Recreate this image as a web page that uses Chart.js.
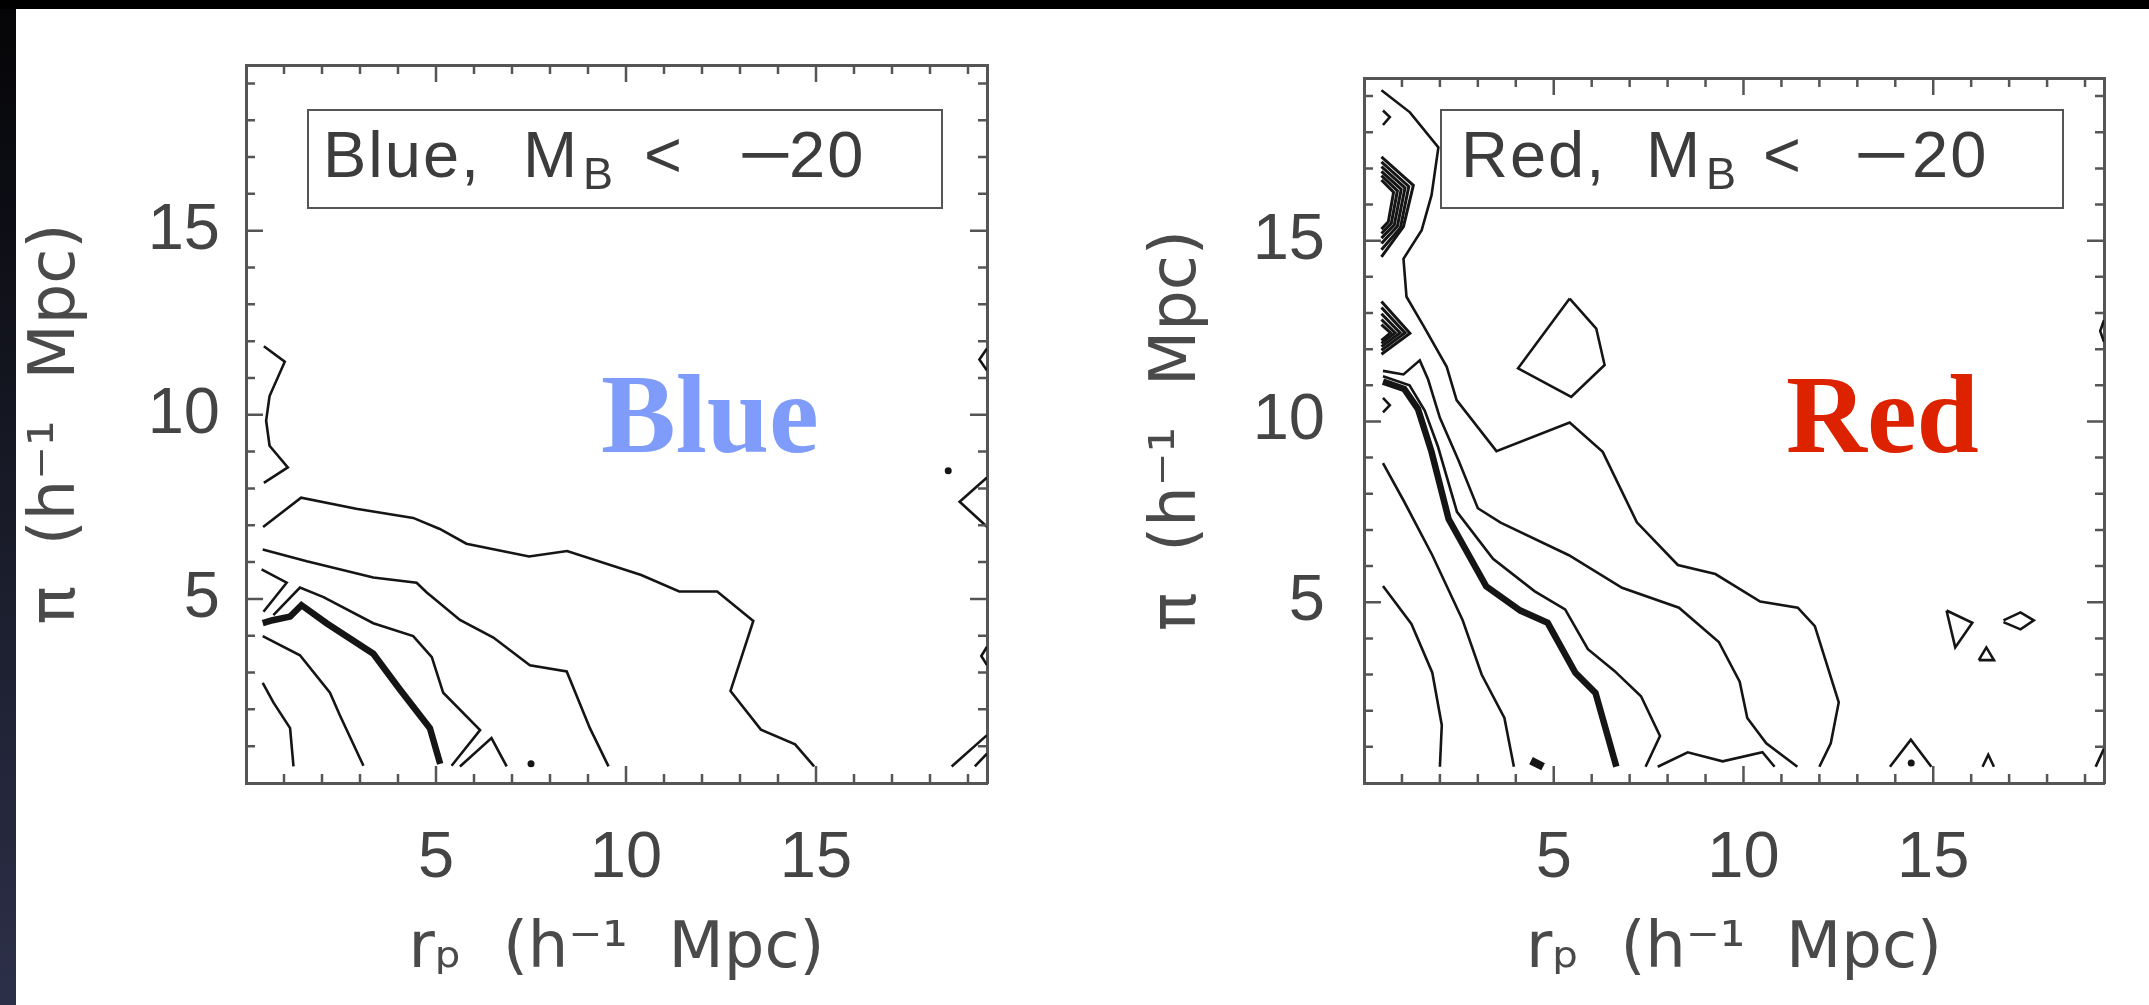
<!DOCTYPE html>
<html><head><meta charset="utf-8">
<script src="https://cdn.jsdelivr.net/npm/chart.js@4.4.0/dist/chart.umd.min.js"></script>
<style>
html,body{margin:0;padding:0;background:#000;width:2149px;height:1005px;overflow:hidden;}
#paper{position:absolute;left:16px;top:9px;width:2133px;height:996px;background:#fff;}
#strip{position:absolute;left:0;top:9px;width:16px;height:996px;background:linear-gradient(#050507,#2c3049);}
canvas{position:absolute;top:0;}
.lbox{position:absolute;border:2.5px solid #555;box-sizing:border-box;}
.t{position:absolute;font-family:'Liberation Sans',sans-serif;color:#3c3c3c;line-height:1;white-space:pre;font-size:65px;letter-spacing:2px;}
.s{font-size:45px;}
.m{transform:scaleX(1.45);transform-origin:0 0;}
.big{position:absolute;font-family:'Liberation Serif',serif;font-weight:bold;font-size:112px;line-height:1;white-space:pre;}
</style></head>
<body>
<div id="paper"></div><div id="strip"></div>
<canvas id="c1" width="1075" height="1005" style="left:0"></canvas>
<canvas id="c2" width="1074" height="1005" style="left:1075px"></canvas>

<div class="lbox" style="left:307px;top:109px;width:636px;height:100px"></div>
<div class="t" style="left:323px;top:122px">Blue,</div>
<div class="t" style="left:523px;top:122px">M</div>
<div class="t s" style="left:583px;top:151px">B</div>
<div class="t" style="left:644px;top:122px">&lt;</div>
<div class="t m" style="left:738px;top:122px">&#8722;</div>
<div class="t" style="left:789px;top:122px">20</div>

<div class="lbox" style="left:1440px;top:109px;width:624px;height:100px"></div>
<div class="t" style="left:1461px;top:122px">Red,</div>
<div class="t" style="left:1646px;top:122px">M</div>
<div class="t s" style="left:1706px;top:151px">B</div>
<div class="t" style="left:1763px;top:122px">&lt;</div>
<div class="t m" style="left:1854px;top:122px">&#8722;</div>
<div class="t" style="left:1912px;top:122px">20</div>

<div class="big" style="left:601px;top:358px;color:#7f9cfb">Blue</div>
<div class="big" style="left:1786px;top:358px;color:#dd2200">Red</div>

<script>
// ---- axis ticks ----
const tickValues = [0,1,2,3,4,5,6,7,8,9,10,11,12,13,14,15,16,17,18,19];
const tickLabels = [5,10,15];
const axisMin = 0, axisMax = 19.5;
const xTitle = 'r\u209A  (h\u207B\u00B9  Mpc)';
const yTitle = '\u03C0  (h\u207B\u00B9  Mpc)';

// ---- Blue panel contours (rp, pi) ----
const blueArc1  = [[0.44,2.72],[0.72,2.19],[1.16,1.49],[1.25,0.45]];
const blueArc2  = [[0.44,3.99],[1.42,3.47],[2.21,2.45],[2.47,1.84],[3.09,0.47]];
const blueThick = [[0.44,4.34],[0.7,4.42],[1.16,4.52],[1.46,4.83],[2.12,4.34],[3.35,3.51],[4.05,2.54],[4.84,1.49],[5.11,0.52]];
const blueC4    = [[0.72,4.56],[1.42,5.31],[2.04,5.05],[3.35,4.34],[4.40,3.99],[4.89,3.42],[5.19,2.45],[6.16,1.44],[5.41,0.47]];
const blueV     = [[0.41,5.80],[1.07,5.44],[0.46,4.65]];
const blueBotV  = [[5.63,0.45],[6.46,1.22],[6.86,0.45]];
const blueC5    = [[0.44,6.34],[1.6,6.02],[3.35,5.58],[4.49,5.44],[4.75,5.18],[5.63,4.43],[6.51,3.95],[7.47,3.20],[8.44,3.03],[9.05,1.49],[9.54,0.45]];
const blueC6    = [[0.45,6.95],[1.45,7.75],[2.9,7.45],[4.4,7.2],[5.1,6.9],[5.8,6.5],[7.45,6.15],[8.45,6.3],[10.4,5.65],[11.4,5.2],[12.4,5.2],[13.35,4.4],[12.75,2.5],[13.55,1.45],[14.45,1.05],[14.95,0.45]];
const blueC7    = [[0.47,11.86],[1.02,11.44],[0.62,10.51],[0.53,9.84],[0.62,9.16],[1.1,8.57],[0.47,8.15]];
const blueEdgeV = [[19.5,8.3],[18.78,7.64],[19.5,6.96]];
const blueEdge1 = [[19.5,11.8],[19.3,11.5],[19.5,11.2]];
const blueEdge2 = [[19.5,3.7],[19.35,3.45],[19.5,3.2]];
const blueBR1   = [[18.57,0.45],[19.5,1.3]];
const blueBR2   = [[19.18,0.45],[19.5,0.8]];
const blueDots  = [[18.48,8.48],[7.5,0.52]];

// ---- Red panel contours (rp, pi) ----
const redR1 = [[0.46,19.16],[1.21,18.55],[1.96,17.58],[1.78,16.26],[1.52,15.29],[1.04,14.5],[1.12,13.45],[1.56,12.66],[2.18,11.51],[2.44,10.59],[3.49,9.18],[5.42,9.97],[6.29,9.16],[7.19,7.21],[8.27,6.03],[9.26,5.78],[10.44,5.02],[11.43,4.85],[11.88,4.34],[12.51,2.23],[12.3,1.1],[12.0,0.45]];
const redR2 = [[0.5,11.4],[1.04,11.3],[1.47,11.69],[1.69,11.16],[2.0,10.1],[2.5,8.9],[3.0,7.6],[3.6,7.2],[5.4,6.3],[6.8,5.4],[8.3,4.85],[9.35,3.9],[9.9,2.8],[10.1,1.8],[10.6,1.1],[11.42,0.45]];
const redR3 = [[0.5,11.25],[1.2,11.0],[1.6,10.3],[1.95,9.3],[2.45,7.5],[3.4,6.2],[4.5,5.3],[5.3,4.8],[5.9,3.7],[6.6,3.1],[7.3,2.4],[7.8,1.3],[7.42,0.45]];
const redThick = [[0.5,11.1],[1.06,10.9],[1.42,10.35],[1.78,9.16],[2.23,7.3],[3.22,5.44],[4.12,4.77],[4.84,4.43],[5.57,3.05],[6.1,2.49],[6.65,0.45]];
const redL2 = [[0.5,8.85],[1.05,7.8],[1.8,6.3],[2.6,4.5],[3.1,3.0],[3.7,1.8],[3.95,0.45]];
const redL1 = [[0.5,5.45],[1.25,4.4],[1.8,3.05],[2.05,1.6],[2.0,0.45]];
const redBlob = [[4.4,0.62],[4.72,0.45]];
const redWavy = [[7.74,0.45],[8.53,0.85],[9.45,0.6],[10.5,0.85],[10.82,0.45]];
const redTri = [[13.86,0.45],[14.41,1.2],[14.95,0.45]];
const redSmallTri = [[16.3,0.45],[16.45,0.78],[16.6,0.45]];
const redBR = [[19.28,0.45],[19.5,0.95]];
const redPoly = [[5.42,13.4],[6.12,12.57],[6.34,11.56],[5.46,10.68],[4.06,11.47],[5.42,13.4]];
const redSmall1 = [[15.35,4.77],[16.03,4.43],[15.58,3.75],[15.35,4.77]];
const redSmall2 = [[16.2,3.4],[16.4,3.75],[16.6,3.4],[16.2,3.4]];
const redOval = [[16.85,4.5],[17.3,4.72],[17.65,4.5],[17.3,4.25],[16.85,4.45]];
const redTopV = [[0.5,18.6],[0.68,18.42],[0.5,18.2]];
const redMidV = [[0.5,10.65],[0.68,10.45],[0.5,10.25]];
const redEdge = [[19.5,12.8],[19.4,12.5],[19.5,12.2]];
const redUpper = [
  [[0.46,17.32],[1.3,16.53],[1.04,15.39],[0.46,14.55]],
  [[0.46,17.18],[1.18,16.5],[0.96,15.36],[0.46,14.75]],
  [[0.46,17.05],[1.08,16.46],[0.88,15.4],[0.46,14.92]],
  [[0.46,16.92],[0.98,16.42],[0.8,15.44],[0.46,15.07]],
  [[0.46,16.8],[0.88,16.38],[0.72,15.48],[0.46,15.2]],
  [[0.46,16.68],[0.78,16.34],[0.64,15.52],[0.46,15.32]]
];
const redLower = [
  [[0.46,13.32],[1.21,12.44],[0.46,11.86]],
  [[0.46,13.15],[1.08,12.45],[0.46,11.97]],
  [[0.46,12.98],[0.95,12.45],[0.46,12.07]],
  [[0.46,12.82],[0.82,12.45],[0.46,12.16]],
  [[0.46,12.68],[0.7,12.45],[0.46,12.24]]
];
const redDots = [[14.42,0.55]];

const INK = '#151515';
function line(pts, w){ return {data: pts.map(p=>({x:p[0],y:p[1]})), showLine:true, borderColor:INK, borderWidth:w||2.6, pointRadius:0, tension:0, fill:false}; }
function dots(pts, r){ return {data: pts.map(p=>({x:p[0],y:p[1]})), showLine:false, pointRadius:r||3, backgroundColor:INK, borderWidth:0}; }

const innerTicks = {
  id:'innerTicks',
  afterDatasetsDraw(chart){
    const ctx = chart.ctx, a = chart.chartArea, xs = chart.scales.x, ys = chart.scales.y;
    ctx.save(); ctx.strokeStyle = '#555'; ctx.lineWidth = 2.5;
    tickValues.forEach(v=>{
      if (v === 0) return;
      const len = tickLabels.includes(v) ? 17 : 9;
      const px = xs.getPixelForValue(v), py = ys.getPixelForValue(v);
      ctx.beginPath();
      ctx.moveTo(px, a.bottom); ctx.lineTo(px, a.bottom - len);
      ctx.moveTo(px, a.top); ctx.lineTo(px, a.top + len);
      ctx.moveTo(a.left, py); ctx.lineTo(a.left + len, py);
      ctx.moveTo(a.right, py); ctx.lineTo(a.right - len, py);
      ctx.stroke();
    });
    ctx.restore();
  }
};

function makeChart(id, datasets, g){
  const font = {family:"'Liberation Sans', sans-serif", size:65};
  const tfont = {family:"'DejaVu Sans', sans-serif", size:64};
  const setTicks = s => { s.ticks = tickValues.map(v=>({value:v})); };
  const lab = v => tickLabels.includes(v) ? String(v) : '';
  return new Chart(document.getElementById(id), {
    type:'scatter',
    data:{datasets},
    options:{
      responsive:false, animation:false, devicePixelRatio:1,
      layout:{padding:{left:0, right:g.padRight, top:44, bottom:0}},
      plugins:{legend:{display:false}, tooltip:{enabled:false}},
      scales:{
        x:{type:'linear', position:'bottom', min:axisMin, max:axisMax, afterBuildTicks:setTicks,
           ticks:{callback:lab, font, color:'#444', padding:37, maxRotation:0, autoSkip:false},
           grid:{display:false, drawTicks:false}, border:{display:true, color:'#555', width:3},
           title:{display:true, text:xTitle, font:tfont, color:'#4a4a4a', padding:{top:0, bottom:16}},
           afterFit:s=>{ s.height = 222; }},
        x2:{type:'linear', position:'top', min:axisMin, max:axisMax,
           ticks:{display:false}, grid:{display:false, drawTicks:false}, border:{display:true, color:'#555', width:3},
           afterFit:s=>{ s.height = 0; }},
        y:{type:'linear', position:'left', min:axisMin, max:axisMax, afterBuildTicks:setTicks,
           ticks:{callback:lab, font, color:'#444', padding:g.yPad, autoSkip:false},
           grid:{display:false, drawTicks:false}, border:{display:true, color:'#555', width:3},
           title:{display:true, text:yTitle, font:tfont, color:'#4a4a4a', padding:{top:g.titlePad, bottom:0}},
           afterFit:s=>{ s.width = g.yWidth; }},
        y2:{type:'linear', position:'right', min:axisMin, max:axisMax,
           ticks:{display:false}, grid:{display:false, drawTicks:false}, border:{display:true, color:'#555', width:3},
           afterFit:s=>{ s.width = 0; }}
      }
    },
    plugins:[innerTicks]
  });
}

const blueSets = [
  line(blueArc1), line(blueArc2), line(blueThick, 6.5), line(blueC4), line(blueV), line(blueBotV),
  line(blueC5), line(blueC6), line(blueC7), line(blueEdgeV), line(blueEdge1), line(blueEdge2),
  line(blueBR1), line(blueBR2), dots(blueDots, 3.5)
];
const redSets = [
  line(redR1), line(redR2), line(redR3), line(redThick, 6.5), line(redL2), line(redL1), line(redBlob, 8),
  line(redWavy), line(redTri), line(redSmallTri), line(redBR), line(redPoly), line(redSmall1), line(redSmall2),
  line(redOval), line(redTopV), line(redMidV), line(redEdge), dots(redDots, 3.5)
].concat(redUpper.map(c=>line(c, 3))).concat(redLower.map(c=>line(c, 3)));

makeChart('c1', blueSets, {padRight:1075-987, yWidth:246, yPad:26, titlePad:19});
makeChart('c2', redSets, {padRight:1074-1029, yWidth:289, yPad:39, titlePad:65});
</script>
</body></html>
